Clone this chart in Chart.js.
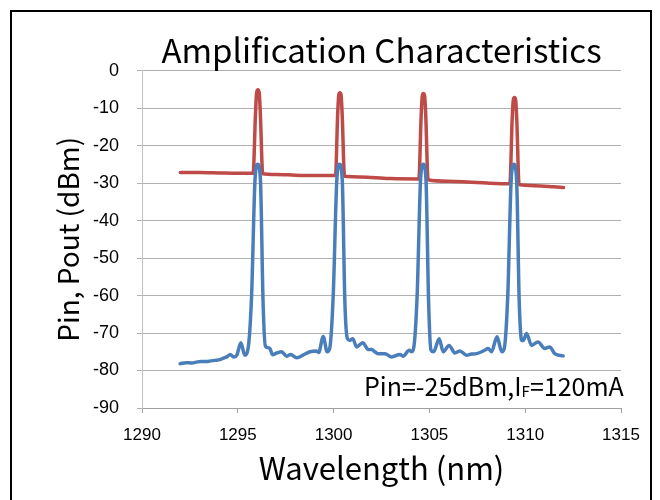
<!DOCTYPE html>
<html>
<head>
<meta charset="utf-8">
<script src="https://cdn.jsdelivr.net/npm/chart.js@4/dist/chart.umd.min.js"></script>
<style>
  body { margin: 0; background: #fff; }
  #wrap { width: 660px; height: 500px; position: relative; }
</style>
</head>
<body>
<div id="wrap"><canvas id="chart"></canvas></div>
<script>
// Pin (blue) - wavelength (nm) / power (dBm)
var pinWavelength = [
  1291.99, 1292.30, 1292.60, 1292.90, 1293.20, 1293.50, 1293.80, 1294.08, 1294.29, 1294.45,
  1294.60, 1294.80, 1294.95, 1295.16, 1295.36, 1295.54, 1295.72, 1295.90, 1296.04, 1296.18,
  1296.32, 1296.44, 1296.58, 1296.68, 1296.82, 1297.00, 1297.29, 1297.55, 1297.75, 1298.08,
  1298.40, 1298.77, 1299.08, 1299.22, 1299.46, 1299.66, 1299.80, 1299.98, 1300.17, 1300.31,
  1300.45, 1300.59, 1300.72, 1300.85, 1301.00, 1301.20, 1301.52, 1301.81, 1301.99, 1302.15,
  1302.32, 1302.68, 1303.03, 1303.46, 1303.62, 1303.95, 1304.07, 1304.18, 1304.36, 1304.54,
  1304.68, 1304.82, 1304.96, 1305.08, 1305.22, 1305.51, 1305.72, 1306.03, 1306.33, 1306.59,
  1306.94, 1307.20, 1307.46, 1307.89, 1308.07, 1308.24, 1308.53, 1308.78, 1308.91, 1309.09,
  1309.27, 1309.41, 1309.55, 1309.69, 1309.82, 1309.92, 1310.07, 1310.33, 1310.67, 1311.02,
  1311.28, 1311.54, 1311.98
];
var pinPower = [
  -78.2, -77.9, -78.0, -77.7, -77.6, -77.5, -77.3, -77.1, -76.6, -76.3,
  -75.7, -76.4, -75.9, -72.6, -75.9, -74.0, -60.0, -29.0, -25.0, -29.0,
  -62.0, -73.5, -73.9, -74.2, -75.8, -75.4, -75.0, -76.2, -75.7, -76.6,
  -75.9, -75.0, -74.8, -75.2, -70.9, -75.0, -74.0, -60.0, -29.0, -25.0,
  -29.0, -62.0, -71.5, -72.0, -71.5, -73.7, -72.6, -74.4, -74.4, -75.0,
  -75.5, -75.5, -76.4, -75.7, -76.2, -74.6, -75.0, -74.0, -60.0, -29.0,
  -25.0, -29.0, -62.0, -74.5, -75.0, -71.5, -75.0, -73.3, -75.3, -74.8,
  -75.9, -75.6, -75.5, -74.6, -74.1, -75.0, -71.0, -75.0, -74.0, -60.0,
  -29.0, -25.0, -29.0, -62.0, -72.0, -71.9, -70.1, -73.3, -72.4, -74.1,
  -73.7, -75.5, -76.1
];

// Pout (red)
var poutWavelength = [
  1292.0, 1293.0, 1294.0, 1295.0, 1295.80, 1295.92, 1295.98, 1296.05, 1296.12, 1296.18,
  1296.30, 1297.0, 1298.0, 1299.0, 1300.10, 1300.21, 1300.27, 1300.33, 1300.39, 1300.45,
  1300.57, 1301.0, 1302.0, 1303.0, 1304.45, 1304.57, 1304.63, 1304.69, 1304.75, 1304.81,
  1304.93, 1306.0, 1307.0, 1308.0, 1309.20, 1309.32, 1309.38, 1309.44, 1309.50, 1309.56,
  1309.68, 1310.5, 1311.5, 1312.0
];
var poutPower = [
  -27.2, -27.2, -27.3, -27.4, -27.4, -12.0, -6.0, -5.1, -6.0, -12.0,
  -27.5, -27.7, -27.9, -28.0, -28.0, -12.0, -6.5, -5.9, -6.5, -12.0,
  -28.2, -28.3, -28.5, -28.8, -28.9, -12.0, -6.7, -6.1, -6.7, -12.0,
  -29.1, -29.5, -29.7, -30.0, -30.2, -13.0, -7.8, -7.2, -7.8, -13.0,
  -30.4, -30.7, -31.0, -31.2
];

var chartTitle = 'Amplification Characteristics';
var xTitle = 'Wavelength (nm)';
var yTitle = 'Pin, Pout (dBm)';

function toPoints(xs, ys) {
  return xs.map(function(x, i) { return { x: x, y: ys[i] }; });
}

// white background, frame and the Pin / IF note
var extras = {
  id: 'extras',
  beforeDraw: function(chart) {
    var ctx = chart.ctx;
    ctx.save();
    ctx.fillStyle = '#fff';
    ctx.fillRect(0, 0, chart.width, chart.height);
    ctx.restore();
  },
  afterDraw: function(chart) {
    var ctx = chart.ctx;
    ctx.save();
    ctx.strokeStyle = '#000';
    ctx.lineWidth = 2;
    ctx.strokeRect(11, 11, 640, 520);

    ctx.fillStyle = '#000';
    ctx.textBaseline = 'alphabetic';
    var y = 396;
    var x = 364;
    ctx.font = '25px "Noto Sans CJK JP"';
    var a = 'Pin=-25dBm,I';
    ctx.fillText(a, x, y);
    x += ctx.measureText(a).width;
    ctx.font = '15px "Noto Sans CJK JP"';
    ctx.fillText('F', x, y + 1);
    x += ctx.measureText('F').width;
    ctx.font = '25px "Noto Sans CJK JP"';
    ctx.fillText('=120mA', x, y);
    ctx.restore();
  }
};

new Chart(document.getElementById('chart'), {
  type: 'line',
  data: {
    datasets: [
      {
        label: 'Pin',
        data: toPoints(pinWavelength, pinPower),
        borderColor: '#4a7ebb',
        borderWidth: 3.5,
        pointRadius: 0,
        cubicInterpolationMode: 'monotone',
        borderJoinStyle: 'round',
        borderCapStyle: 'round'
      },
      {
        label: 'Pout',
        data: toPoints(poutWavelength, poutPower),
        borderColor: '#be4b48',
        borderWidth: 3.5,
        pointRadius: 0,
        cubicInterpolationMode: 'monotone',
        borderJoinStyle: 'round',
        borderCapStyle: 'round'
      }
    ]
  },
  options: {
    responsive: true,
    maintainAspectRatio: false,
    animation: false,
    layout: { padding: { top: 11, right: 39, bottom: 0, left: 0 } },
    plugins: {
      legend: { display: false },
      tooltip: { enabled: false },
      title: {
        display: true,
        text: chartTitle,
        fullSize: false,
        color: '#000',
        font: { family: '"Noto Sans CJK JP"', size: 33, weight: 'normal', lineHeight: 1.2 },
        padding: { top: 20, bottom: 0 }
      }
    },
    scales: {
      x: {
        type: 'linear',
        min: 1290,
        max: 1315,
        ticks: {
          stepSize: 5,
          color: '#000',
          padding: 12,
          font: { family: '"Liberation Sans"', size: 17 },
          callback: function(v) { return v; }
        },
        grid: { drawOnChartArea: false, drawTicks: true, tickLength: 5, color: '#a0a0a0' },
        border: { color: '#a0a0a0' },
        title: {
          display: true,
          text: xTitle,
          color: '#000',
          font: { family: '"Noto Sans CJK JP"', size: 31, lineHeight: 1.2 },
          padding: { top: 0, bottom: 13 }
        },
        afterFit: function(scale) { scale.height = 92; }
      },
      y: {
        min: -90,
        max: 0,
        ticks: {
          stepSize: 10,
          color: '#000',
          padding: 18,
          font: { family: '"Liberation Sans"', size: 18 }
        },
        grid: { color: '#b0b0b0', tickLength: 5 },
        border: { color: '#c0c0c0' },
        title: {
          display: true,
          text: yTitle,
          color: '#000',
          font: { family: '"Noto Sans CJK JP"', size: 28, lineHeight: 1.2 },
          padding: { top: 52, bottom: 0 }
        },
        afterFit: function(scale) { scale.width = 142; }
      }
    }
  },
  plugins: [extras]
});
</script>
</body>
</html>
